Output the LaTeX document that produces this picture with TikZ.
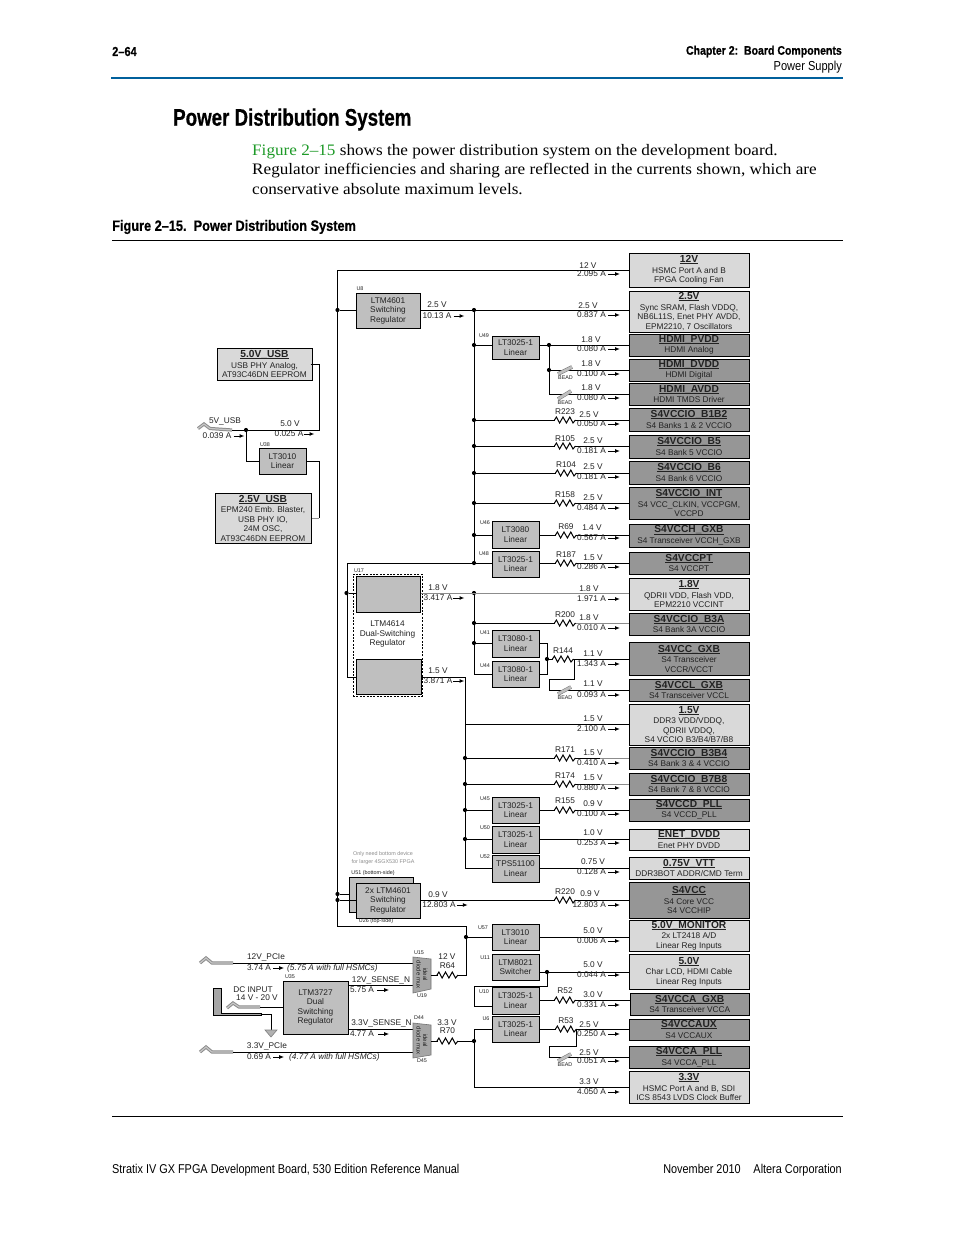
\documentclass[tikz,border=0pt]{standalone}
\usepackage{fontspec}
\setmainfont{Liberation Sans}
\newfontfamily\pal[FakeStretch=1.072]{Liberation Serif}
\newfontfamily\cond[FakeStretch=0.78,BoldFeatures={FakeBold=0.5}]{Liberation Sans}
\newfontfamily\condw[FakeStretch=0.85,BoldFeatures={FakeBold=0.5}]{Liberation Sans}
\usetikzlibrary{arrows.meta}
\definecolor{lite}{HTML}{D9D9D9}
\definecolor{dark}{HTML}{969696}
\definecolor{reg}{HTML}{BFBFBF}
\definecolor{headblue}{HTML}{00609C}
\definecolor{figgreen}{HTML}{1E9A28}
\definecolor{ink}{HTML}{222222}
\tikzset{
  x=1pt,y=-1pt,
  wire/.style={draw=black,line width=1},
  gwire/.style={draw=black!45,line width=1},
  cur/.style={draw=black,line width=1,-{Latex[length=5pt,width=4pt]}},
  lab/.style={inner sep=0,text=ink,font=\fontsize{8.3}{9.5}\selectfont,align=center},
  tiny/.style={inner sep=0,text=ink,font=\fontsize{5.4}{6}\selectfont,align=center},
  note/.style={inner sep=0,text=black!45,font=\fontsize{5.4}{8}\selectfont,align=center},
  dot/.style={circle,fill=black,inner sep=0,minimum size=4.2pt},
  pbox/.style={draw=black,line width=1,inner sep=0,text=ink,align=center,font=\fontsize{8.3}{9.5}\selectfont},
  plug/.style={draw=black!45,line width=1,double=black!22,double distance=1.2pt},
  beadbar/.style={draw=black!55,line width=.5,double=black!25,double distance=2.6pt},
  resz/.pic={\fill[white] (-10,-3.5) rectangle (10,3.5);
    \draw[wire] (-10.5,0) -- (-8.6,-3) -- (-5.4,3) -- (-2,-3) -- (1.4,3) -- (4.8,-3) -- (8,3) -- (10.5,0);},
}
\newsavebox\ttlbox
\newcommand\ttl[1]{{\fontsize{10.2}{10.6}\selectfont\bfseries\sbox\ttlbox{#1}\rlap{\rule[-1.5pt]{\wd\ttlbox}{.8pt}}\usebox\ttlbox}\\[1pt]}
\newcommand\ibox[7]{\node[pbox,fill=#6,minimum width={(#4-#2)*1pt},minimum height={(#5-#3)*1pt}] (#1) at ({(#2+#4)/2},{(#3+#5)/2}) {#7};}
\newcommand\rlab[6]{\node[lab] (v#1) at (#2,#3) {#4};
  \node[lab,anchor=east] (a#1) at (606,#5) {#6};
  \coordinate (t#1) at (620,#5);
  \draw[cur] ([xshift=2pt]a#1.east) -- (t#1);}
\newcommand\resist[4]{\pic at (#1,#2) {resz}; \node[lab] (lr#4) at (#1,#3) {#4};}
\newcommand\bead[5]{\draw[beadbar] (#1,#2) -- (#3,#4); \node[tiny] (bd#5) at ({(#1+#3)/2+.5},{#2+3.2}) {BEAD};}
\newcommand\ulab[3]{\node[tiny] (ul#3) at (#1,#2) {#3};}
\begin{document}
\begin{tikzpicture}
\useasboundingbox (0,0) rectangle (954,1235);
\fill[white] (0,0) rectangle (954,1235);

% page furniture
\node[inner sep=0,anchor=west] (pno) at (112,51.5) {\condw\bfseries\fontsize{13}{14}\selectfont 2–64};
\node[inner sep=0,anchor=east] (chap) at (842,51.5) {\condw\bfseries\fontsize{12.4}{14}\selectfont Chapter 2:\ \ Board Components};
\node[inner sep=0,anchor=east] (sect) at (842,67) {\condw\fontsize{13}{14}\selectfont Power Supply};
\draw[headblue,line width=2] (111,78) -- (843,78);
\node[inner sep=0,anchor=west] (h1) at (173,119.5) {\cond\bfseries\fontsize{24}{26}\selectfont Power Distribution System};
\node[inner sep=0,anchor=base west] (p1) at (252,155) {\pal\fontsize{16}{19}\selectfont\textcolor{figgreen}{Figure 2–15} shows the power distribution system on the development board.};
\node[inner sep=0,anchor=base west] (p2) at (252,174) {\pal\fontsize{16}{19}\selectfont Regulator inefficiencies and sharing are reflected in the currents shown, which are};
\node[inner sep=0,anchor=base west] (p3) at (252,194) {\pal\fontsize{16}{19}\selectfont conservative absolute maximum levels.};
\node[inner sep=0,anchor=west] (figcap) at (112,227) {\condw\bfseries\fontsize{15}{16}\selectfont Figure 2–15.\ \ Power Distribution System};
\draw[black,line width=1] (112,240.5) -- (843,240.5);
\draw[black,line width=1] (112,1116) -- (843,1116);
\node[inner sep=0,anchor=west] (foot1) at (112,1170.5) {\condw\fontsize{12.8}{15}\selectfont Stratix IV GX FPGA Development Board, 530 Edition Reference Manual};
\node[inner sep=0,anchor=east] (foot2) at (842,1170.5) {\condw\fontsize{12.8}{15}\selectfont November 2010\quad Altera Corporation};

% output rail boxes
\ibox{b12}{629}{253}{749}{287}{lite}{\ttl{12V}HSMC Port A and B\\FPGA Cooling Fan}
\ibox{b25}{629}{291}{749}{332}{lite}{\ttl{2.5V}Sync SRAM, Flash VDDQ,\\NB6L11S, Enet PHY AVDD,\\EPM2210, 7 Oscillators}
\ibox{bpv}{629}{334}{749}{356}{dark}{\ttl{HDMI\_PVDD}HDMI Analog}
\ibox{bdv}{629}{359}{749}{381}{dark}{\ttl{HDMI\_DVDD}HDMI Digital}
\ibox{bav}{629}{383}{749}{405}{dark}{\ttl{HDMI\_AVDD}HDMI TMDS Driver}
\ibox{bb12}{629}{408}{749}{431}{dark}{\ttl{S4VCCIO\_B1B2}S4 Banks 1 \& 2 VCCIO}
\ibox{bb5}{629}{435}{749}{458}{dark}{\ttl{S4VCCIO\_B5}S4 Bank 5 VCCIO}
\ibox{bb6}{629}{461}{749}{484}{dark}{\ttl{S4VCCIO\_B6}S4 Bank 6 VCCIO}
\ibox{bint}{629}{487}{749}{519}{dark}{\ttl{S4VCCIO\_INT}S4 VCC\_CLKIN, VCCPGM,\\VCCPD}
\ibox{bch}{629}{524}{749}{547}{dark}{\ttl{S4VCCH\_GXB}S4 Transceiver VCCH\_GXB}
\ibox{bpt}{629}{552}{749}{574}{dark}{\ttl{S4VCCPT}S4 VCCPT}
\ibox{b18}{629}{578}{749}{610}{lite}{\ttl{1.8V}QDRII VDD, Flash VDD,\\EPM2210 VCCINT}
\ibox{bb3a}{629}{613}{749}{635}{dark}{\ttl{S4VCCIO\_B3A}S4 Bank 3A VCCIO}
\ibox{bcg}{629}{642}{749}{675}{dark}{\ttl{S4VCC\_GXB}S4 Transceiver\\VCCR/VCCT}
\ibox{bcl}{629}{679}{749}{701}{dark}{\ttl{S4VCCL\_GXB}S4 Transceiver VCCL}
\ibox{b15}{629}{704}{749}{745}{lite}{\ttl{1.5V}DDR3 VDD/VDDQ,\\QDRII VDDQ,\\S4 VCCIO B3/B4/B7/B8}
\ibox{bb34}{629}{747}{749}{769}{dark}{\ttl{S4VCCIO\_B3B4}S4 Bank 3 \& 4 VCCIO}
\ibox{bb78}{629}{773}{749}{795}{dark}{\ttl{S4VCCIO\_B7B8}S4 Bank 7 \& 8 VCCIO}
\ibox{bdp}{629}{799}{749}{821}{dark}{\ttl{S4VCCD\_PLL}S4 VCCD\_PLL}
\ibox{ben}{629}{829}{749}{850}{lite}{\ttl{ENET\_DVDD}Enet PHY DVDD}
\ibox{bvt}{629}{857}{749}{879}{lite}{\ttl{0.75V\_VTT}DDR3BOT ADDR/CMD Term}
\ibox{bcc}{629}{882}{749}{918}{dark}{\ttl{S4VCC}S4 Core VCC\\S4 VCCHIP}
\ibox{bmo}{629}{920}{749}{951}{lite}{\ttl{5.0V\_MONITOR}2x LT2418 A/D\\Linear Reg Inputs}
\ibox{b50}{629}{954}{749}{989}{lite}{\ttl{5.0V}Char LCD, HDMI Cable\\Linear Reg Inputs}
\ibox{bag}{630.5}{993}{749}{1015}{dark}{\ttl{S4VCCA\_GXB}S4 Transceiver VCCA}
\ibox{bax}{629}{1019}{749}{1040}{dark}{\ttl{S4VCCAUX}S4 VCCAUX}
\ibox{bap}{629}{1046}{749}{1068}{dark}{\ttl{S4VCCA\_PLL}S4 VCCA\_PLL}
\ibox{b33}{629}{1071}{749}{1103}{lite}{\ttl{3.3V}HSMC Port A and B, SDI\\ICS 8543 LVDS Clock Buffer}

% regulators
\ibox{u8}{356}{293}{420}{328}{reg}{LTM4601\\Switching\\Regulator}
\ibox{u49}{492}{336}{539}{359}{reg}{LT3025-1\\Linear}
\ibox{u46}{492}{521}{539}{548}{reg}{LT3080\\Linear}
\ibox{u48}{492}{551}{539}{577}{reg}{LT3025-1\\Linear}
\ibox{u41}{492}{630}{539}{657}{reg}{LT3080-1\\Linear}
\ibox{u44}{492}{661}{539}{687}{reg}{LT3080-1\\Linear}
\ibox{u45}{492}{797}{539}{823}{reg}{LT3025-1\\Linear}
\ibox{u50}{492}{826}{539}{853}{reg}{LT3025-1\\Linear}
\ibox{u52}{492}{855}{539}{882}{reg}{TPS51100\\Linear}
\ibox{u57}{492}{924}{539}{950}{reg}{LT3010\\Linear}
\ibox{u11}{492}{954}{539}{980}{reg}{LTM8021\\Switcher}
\ibox{u10}{492}{987}{539}{1014}{reg}{LT3025-1\\Linear}
\ibox{u6}{492}{1016}{539}{1042}{reg}{LT3025-1\\Linear}
\ibox{u51}{349}{877}{413}{912}{reg}{}
\ibox{u26}{356}{883}{420}{918}{reg}{2x LTM4601\\Switching\\Regulator}
\ibox{u38}{259}{448}{306}{474}{reg}{LT3010\\Linear}
\ibox{u35}{283}{981}{348}{1034}{reg}{LTM3727\\Dual\\Switching\\Regulator}
\node[draw=black,line width=1,dash pattern=on 2pt off 1.4pt,minimum width=69pt,minimum height=122pt,inner sep=0] (u17) at (387.5,635) {};
\ibox{u17a}{356}{576}{420}{612}{reg}{}
\ibox{u17b}{356}{659}{421}{694}{reg}{}
\node[lab] (u17t) at (387.5,634) {LTM4614\\Dual-Switching\\Regulator};

% left boxes
\ibox{usb5}{217}{348}{312}{380}{lite}{\ttl{5.0V\_USB}USB PHY Analog,\\AT93C46DN EEPROM}
\ibox{usb25}{215}{493}{311}{543}{lite}{\ttl{2.5V\_USB}EPM240 Emb. Blaster,\\USB PHY IO,\\24M OSC,\\AT93C46DN EEPROM}

% bus junctions
\node[dot] (j12a) at (337.5,310) {};
\node[dot] (j12b) at (337.5,894) {};
\node[dot] (j12c) at (337.5,900) {};
\node[dot] (j25a) at (474,310) {};
\node[dot] (j25b) at (474,345) {};
\node[dot] (j25c) at (474,420) {};
\node[dot] (j25d) at (474,446) {};
\node[dot] (j25e) at (474,473) {};
\node[dot] (j25f) at (474,503) {};
\node[dot] (j25g) at (474,535) {};
\node[dot] (j25h) at (474,563) {};
\node[dot] (j18a) at (474,593) {};
\node[dot] (j18b) at (474,623) {};
\node[dot] (j18c) at (474,643) {};
\node[dot] (j15a) at (465,758) {};
\node[dot] (j15b) at (465,784) {};
\node[dot] (j15c) at (465,810) {};
\node[dot] (j15d) at (465,839) {};
\node[dot] (j12d) at (466,937) {};
\node[dot] (j33) at (474,1041) {};
\node[dot] (j17) at (346.5,593) {};
\node[dot] (jh) at (549,345) {};
\node[dot] (jh2) at (549,370) {};
\node[dot] (jg) at (547,659) {};
\node[dot] (j5) at (547,972) {};
\node[dot] (jusb) at (246,430) {};

% 12 V bus
\draw[wire] (b12.west |- 0,270) -- (337.5,270) -- (337.5,926) -- (466,926) -- (466,975) -- (457,975);
\draw[wire] (j12a) -- (u8.west |- j12a);
\draw[wire] (j12b) -- (u51.west |- j12b);
\draw[wire] (j12c) -- (u26.west |- j12c);
\draw[wire] (j12d) -- (u57.west |- j12d);
\draw[wire] (u57.east |- j12d) -- (bmo.west |- j12d);
% 2.5 V bus
\draw[wire] (u8.east |- j25a) -- (b25.west |- j25a);
\draw[wire] (j25a) -- (j25h);
\draw[wire] (j25b) -- (u49.west |- j25b);
\draw[wire] (u49.east |- j25b) -- (bpv.west |- j25b);
\draw[wire] (jh) -- (549,394) -- (bav.west |- 0,394);
\draw[wire] (jh2) -- (bdv.west |- jh2);
\draw[wire] (j25c) -- (bb12.west |- j25c);
\draw[wire] (j25d) -- (bb5.west |- j25d);
\draw[wire] (j25e) -- (bb6.west |- j25e);
\draw[wire] (j25f) -- (bint.west |- j25f);
\draw[wire] (j25g) -- (u46.west |- j25g);
\draw[wire] (u46.east |- j25g) -- (bch.west |- j25g);
\draw[wire] (u48.west |- j25h) -- (347,563) -- (347,677) -- (u17b.west |- 0,677);
\draw[wire] (j17) -- (u17a.west |- j17);
\draw[wire] (u48.east |- j25h) -- (bpt.west |- j25h);
% 1.8 V bus
\draw[gwire] (u17a.east |- j18a) -- (b18.west |- j18a);
\draw[wire] (j18a) -- (474,674) -- (u44.west |- 0,674);
\draw[wire] (j18b) -- (555,623);
\draw[gwire] (575,623) -- (bb3a.west |- j18b);
\draw[wire] (j18c) -- (u41.west |- j18c);
\draw[wire] (u41.east |- j18c) -- (547,643) -- (547,674) -- (u44.east |- 0,674);
\draw[wire] (jg) -- (bcg.west |- jg);
\draw[wire] (574,659) -- (574,679) -- (549,679) -- (549,690) -- (bcl.west |- 0,690);
% 1.5 V bus
\draw[wire] (u17b.east |- 0,677) -- (465,677) -- (465,868) -- (u52.west |- 0,868);
\draw[wire] (465,724) -- (b15.west |- 0,724);
\draw[wire] (j15a) -- (600,758);
\draw[gwire] (600,758) -- (bb34.west |- j15a);
\draw[wire] (j15b) -- (600,784);
\draw[gwire] (600,784) -- (bb78.west |- j15b);
\draw[wire] (j15c) -- (u45.west |- j15c);
\draw[wire] (u45.east |- j15c) -- (bdp.west |- j15c);
\draw[wire] (j15d) -- (u50.west |- j15d);
\draw[wire] (u50.east |- j15d) -- (ben.west |- j15d);
\draw[wire] (u52.east |- 0,868) -- (bvt.west |- 0,868);
% 0.9 V
\draw[wire] (u26.east |- 0,900) -- (bcc.west |- 0,900);
% bottom group
\draw[wire] (u11.east |- j5) -- (b50.west |- j5);
\draw[wire] (j5) -- (547,986) -- (474,986) -- (474,1006) -- (u10.west |- 0,1006);
\draw[wire] (u10.east |- 0,1000) -- (bag.west |- 0,1000);
\draw[wire] (u6.east |- 0,1029) -- (bax.west |- 0,1029);
\draw[wire] (576,1029) -- (576,1046) -- (549,1046) -- (549,1057) -- (bap.west |- 0,1057);
\draw[wire] (u6.west |- 0,1029) -- (474,1029) -- (474,1087) -- (b33.west |- 0,1087);
% USB side
\coordinate (usbc) at (232,430);
\draw[wire] (usb5.east |- 0,364) ++(-2,0) -- (319,364) -- (319,430) -- (usbc);
\draw[wire] (jusb) -- (246,461) -- (u38.west |- 0,461);
\draw[wire] (u38.east |- 0,461) -- (319,461) -- (319,518);
\draw[gwire] (319,518) -- (usb25.east |- 0,518);
\draw[plug] (198,428.5) -- (204,424) -- (210,428.5) -- (usbc);

% resistors
\resist{565}{420}{412}{R223}
\resist{565}{446}{439}{R105}
\resist{566}{473}{465}{R104}
\resist{565}{503}{495}{R158}
\resist{566}{535}{527}{R69}
\resist{566}{563}{555}{R187}
\resist{565}{623}{615}{R200}
\resist{563}{659}{651}{R144}
\resist{565}{758}{750}{R171}
\resist{565}{784}{776}{R174}
\resist{565}{810}{801}{R155}
\resist{565}{900}{892}{R220}
\resist{565}{1000}{991}{R52}
\resist{566}{1029}{1021}{R53}
% beads
\bead{558}{374}{572}{367}{a}
\bead{558}{399}{571}{391}{b}
\bead{558}{694}{571}{687}{c}
\bead{558}{1061}{571}{1054}{d}

% rail labels
\rlab{r12}{588}{266}{12 V}{274}{2.095 A}
\rlab{r25}{588}{306}{2.5 V}{315}{0.837 A}
\rlab{rpv}{591}{340}{1.8 V}{349}{0.080 A}
\rlab{rdv}{591}{364}{1.8 V}{374}{0.100 A}
\rlab{rav}{591}{388}{1.8 V}{398}{0.080 A}
\rlab{rb12}{589}{415}{2.5 V}{424}{0.050 A}
\rlab{rb5}{593}{441}{2.5 V}{451}{0.181 A}
\rlab{rb6}{593}{467}{2.5 V}{477}{0.181 A}
\rlab{rint}{593}{498}{2.5 V}{508}{0.484 A}
\rlab{rch}{592}{528}{1.4 V}{538}{0.567 A}
\rlab{rpt}{593}{558}{1.5 V}{567}{0.286 A}
\rlab{r18}{589}{589}{1.8 V}{599}{1.971 A}
\rlab{rb3a}{589}{618}{1.8 V}{628}{0.010 A}
\rlab{rcg}{593}{654}{1.1 V}{664}{1.343 A}
\rlab{rcl}{593}{684}{1.1 V}{695}{0.093 A}
\rlab{r15}{593}{719}{1.5 V}{729}{2.100 A}
\rlab{rb34}{593}{753}{1.5 V}{763}{0.410 A}
\rlab{rb78}{593}{778}{1.5 V}{788}{0.880 A}
\rlab{rdp}{593}{804}{0.9 V}{814}{0.100 A}
\rlab{ren}{593}{833}{1.0 V}{843}{0.253 A}
\rlab{rvt}{593}{862}{0.75 V}{872}{0.128 A}
\rlab{rcc}{590}{894}{0.9 V}{905}{12.803 A}
\rlab{rmo}{593}{931}{5.0 V}{941}{0.006 A}
\rlab{r50}{593}{965}{5.0 V}{975}{0.044 A}
\rlab{rag}{593}{995}{3.0 V}{1005}{0.331 A}
\rlab{rax}{589}{1025}{2.5 V}{1034}{0.250 A}
\rlab{rap}{589}{1053}{2.5 V}{1061}{0.051 A}
\rlab{r33}{589}{1082}{3.3 V}{1092}{4.050 A}

% regulator output labels
\node[lab] (l1) at (437,305) {2.5 V};
\node[lab] (l2) at (437,316) {10.13 A};
\draw[cur] (l2.east) ++(2,0) -- ++(11,0);
\node[lab] (l3) at (438,588) {1.8 V};
\node[lab] (l4) at (438,598) {3.417 A};
\draw[cur] (l4.east) ++(0,0) -- ++(12,0);
\node[lab] (l5) at (438,671) {1.5 V};
\node[lab] (l6) at (438,681) {3.871 A};
\draw[cur] (l6.east) ++(.5,0) -- ++(11.5,0);
\node[lab] (l7) at (438,895) {0.9 V};
\node[lab] (l8) at (439,905) {12.803 A};
\draw[cur] (l8.east) ++(1,0) -- ++(11,0);
\node[lab] (l9) at (225,421) {5V\_USB};
\node[lab] (l10) at (217,436) {0.039 A};
\draw[cur] (l10.east) ++(2,0) -- ++(11,0);
\node[lab] (l11) at (290,424) {5.0 V};
\node[lab] (l12) at (289,434) {0.025 A};
\draw[cur] (l12.east) ++(0,0) -- ++(11,0);

% small device labels
\ulab{360}{289}{U8}
\ulab{484}{336}{U49}
\ulab{485}{523}{U46}
\ulab{484}{554}{U48}
\ulab{359}{571}{U17}
\ulab{485}{633}{U41}
\ulab{485}{666}{U44}
\ulab{485}{799}{U45}
\ulab{485}{828}{U50}
\ulab{485}{857}{U52}
\ulab{483}{928}{U57}
\ulab{485}{958}{U11}
\ulab{484}{992}{U10}
\ulab{486}{1019}{U6}
\ulab{265}{445}{U38}
\ulab{290}{977}{U35}
\ulab{419}{953}{U15}
\ulab{422}{996}{U19}
\ulab{419}{1018}{D44}
\ulab{422}{1061}{D45}
\node[note] (nb) at (383,858) {Only need bottom device\\for larger 4SGX530 FPGA};
\node[tiny] (u51l) at (373,873) {U51 (bottom-side)};
\node[tiny] (u26l) at (376,921) {U26 (top-side)};

% input side
\coordinate (c12) at (233,963);
\coordinate (c33) at (233,1052);
\coordinate (cdc) at (260,1007);
\draw[plug] (200,963) -- (206,958) -- (212,963) -- (c12);
\draw[plug] (200,1052) -- (206,1047) -- (212,1052) -- (c33);
\draw[plug] (227,1008) -- (233,1003) -- (239,1007) -- (cdc);
\draw[black,line width=1,fill=black!35] (213,988) -- (221,988) -- (221,1013) -- (261,1013) -- (261,1015.5) -- (213,1015.5) -- cycle;
\coordinate (gnd) at (271,1030);
\draw[wire] (261,1014) -- (271,1014) -- (gnd);
\draw[draw=black!50,fill=black!30,line width=.6] (265,1030) -- (277,1030) -- (271,1037) -- cycle;
\draw[wire] (c12) -- (412.5,963);
\draw[wire] (c33) -- (412.5,1052);
\draw[wire] (cdc) -- (u35.west |- cdc);
\draw[wire] (u35.east |- 0,985) -- (412.5,985);
\draw[wire] (u35.east |- 0,1029) -- (412.5,1029);
% diode muxes
\draw[draw=black!55,fill=black!35,line width=.6] (413,957) -- (431,959) -- (431,989) -- (413,993) -- cycle;
\draw[draw=black!55,fill=black!35,line width=.6] (413,1023) -- (431,1025) -- (431,1055) -- (413,1058) -- cycle;
\node[tiny,rotate=-90,font=\fontsize{6}{6.6}\selectfont] (m1) at (422,974.5) {ideal\\diode mux};
\node[tiny,rotate=-90,font=\fontsize{6}{6.6}\selectfont] (m2) at (422,1040.5) {ideal\\diode mux};
\draw[wire] (431,975) -- (457,975);
\draw[wire] (431,1041) -- (j33);
\resist{447.5}{975}{966}{R64}
\resist{447.5}{1041}{1031}{R70}
\node[lab] (i1) at (266,957) {12V\_PCIe};
\node[lab] (i2) at (259,968) {3.74 A};
\draw[cur] (i2.east) ++(2,0) -- ++(11,0);
\node[lab,anchor=west] (i3) at (287,968) {\itshape (5.75 A with full HSMCs)};
\node[lab] (i4) at (381,980) {12V\_SENSE\_N};
\node[lab] (i5) at (362,990) {5.75 A};
\draw[cur] (i5.east) ++(3,0) -- ++(12,0);
\node[lab] (i6) at (381.5,1023) {3.3V\_SENSE\_N};
\node[lab] (i7) at (362,1034) {4.77 A};
\draw[cur] (i7.east) ++(4,0) -- ++(11,0);
\node[lab] (i8) at (267,1046) {3.3V\_PCIe};
\node[lab] (i9) at (259,1057) {0.69 A};
\draw[cur] (i9.east) ++(2,0) -- ++(11,0);
\node[lab,anchor=west] (i10) at (289,1057) {\itshape (4.77 A with full HSMCs)};
\node[lab] (i11) at (253,990) {DC INPUT};
\node[lab] (i12) at (257,998) {14 V - 20 V};
\node[lab] (i13) at (447,957) {12 V};
\node[lab] (i14) at (447,1023) {3.3 V};
\end{tikzpicture}
\end{document}
